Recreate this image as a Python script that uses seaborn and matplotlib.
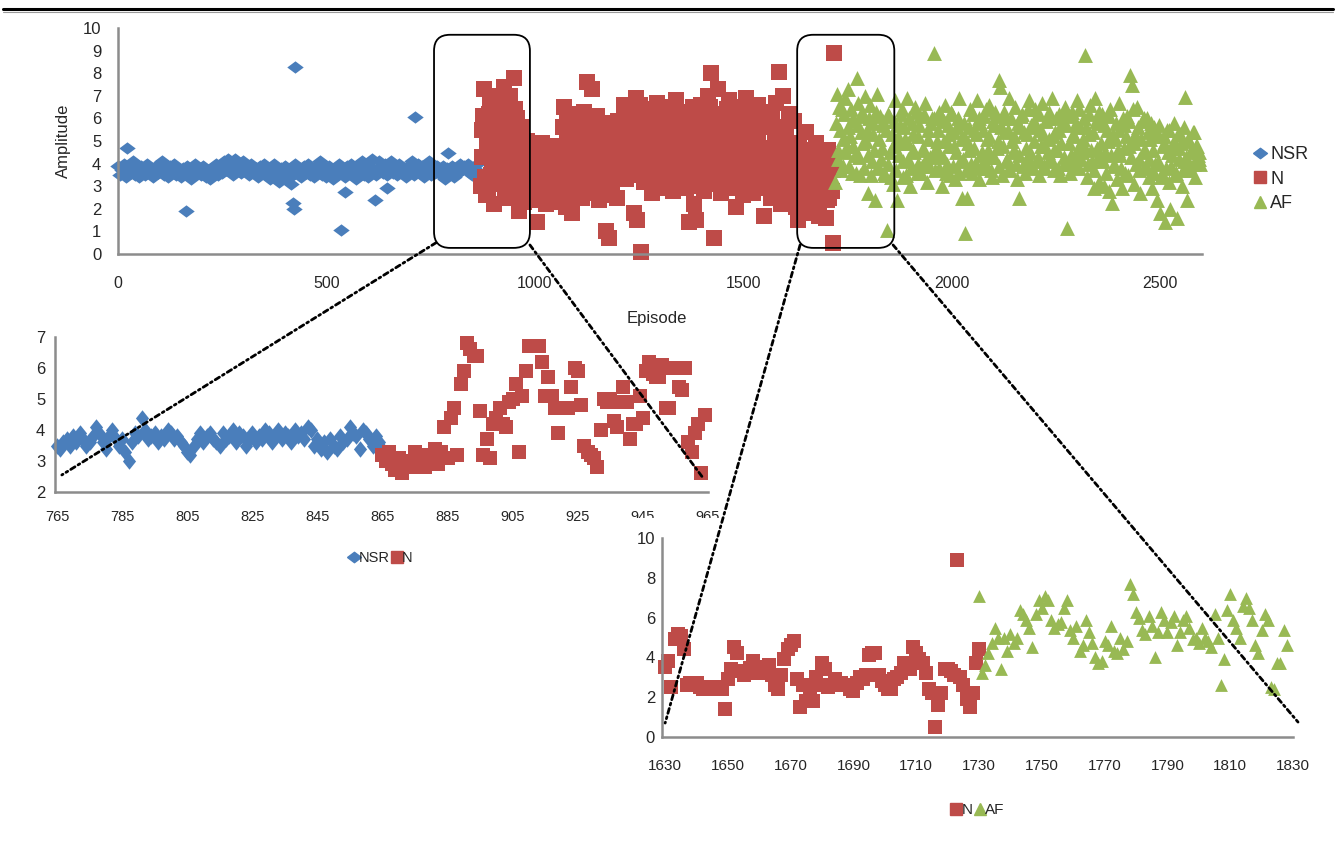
import numpy as np
import matplotlib
matplotlib.use("Agg")
import matplotlib.pyplot as plt
import seaborn as sns
from matplotlib.patches import FancyBboxPatch, ConnectionPatch, Rectangle
from matplotlib.lines import Line2D
from matplotlib.markers import MarkerStyle

# ---- main chart, readings every few episodes ----
nsr_start, nsr_step = 0, 5
nsr_main = [
    3.9, 3.5, 3.7, 4.0, 3.4, 3.8, 3.6, 4.1, 3.5, 3.8,
    3.4, 3.9, 3.7, 3.5, 4.0, 3.6, 3.8, 3.4, 3.9, 3.6,
    3.7, 4.1, 3.5, 3.8, 3.4, 3.9, 3.6, 4.0, 3.5, 3.7,
    3.4, 3.8, 3.6, 3.9, 3.5, 3.3, 3.7, 4.0, 3.6, 3.8,
    3.5, 3.9, 3.4, 3.7, 3.3, 3.8, 3.6, 4.0, 3.5, 3.8,
    3.6, 4.1, 3.7, 4.2, 3.9, 3.5, 4.2, 3.8, 4.0, 3.6,
    4.1, 3.7, 3.9, 3.5, 4.0, 3.6, 3.8, 3.4, 3.9, 3.6,
    4.0, 3.5, 3.8, 3.3, 3.7, 4.0, 3.5, 3.2, 3.8, 3.6,
    3.9, 3.4, 3.7, 3.1, 3.5, 4.0, 3.6, 3.8, 3.4, 3.9,
    3.6, 4.0, 3.5, 3.8, 3.4, 3.9, 3.7, 4.1, 3.5, 3.8,
    3.4, 3.9, 3.6, 3.3, 3.8, 3.5, 4.0, 3.6, 3.8, 3.4,
    3.9, 3.6, 4.0, 3.5, 3.3, 3.8, 3.6, 4.1, 3.5, 3.7,
    3.4, 3.9, 4.2, 3.7, 3.5, 4.1, 3.8, 3.6, 4.0, 3.5,
    3.8, 4.1, 3.6, 3.9, 3.5, 4.0, 3.7, 3.8, 3.4, 3.9,
    3.6, 4.1, 3.5, 3.8, 4.0, 3.6, 3.9, 3.4, 3.7, 4.1,
    3.5, 3.8, 3.6, 3.9, 3.7, 3.5, 3.9, 3.3, 3.8, 3.7,
    3.9, 3.4, 3.8, 3.6, 4.0, 3.7, 3.9, 3.8, 4.0, 3.6,
    3.5, 3.8, 4.0, 3.6,
]
nsr_odd_ep = [21, 163, 419, 422, 424, 536, 544, 616, 645, 712, 791]
nsr_odd = [4.7, 1.9, 2.27, 1.98, 8.29, 1.06, 2.74, 2.39, 2.92, 6.06, 4.45]

# N: two readings in every 4-episode window
n_start, n_step = 870, 4
n_main_a = [
    3.0, 5.5, 7.3, 2.6, 4.8, 6.2, 3.5, 7.0, 2.2, 5.9,
    4.2, 6.8, 3.1, 5.3, 7.4, 2.5, 4.6, 6.5, 3.8, 5.1,
    7.8, 2.9, 6.0, 1.9, 4.4, 5.6, 2.3, 3.6, 5.0, 2.8,
    4.7, 3.3, 2.4, 4.1, 1.4, 3.7, 2.6, 4.9, 3.0, 2.2,
    4.4, 3.5, 2.7, 4.8, 3.1, 2.3, 4.0, 3.6, 2.9, 4.6,
    6.5, 2.1, 5.2, 3.4, 6.0, 1.8, 4.5, 5.7, 2.6, 3.9,
    5.1, 2.5, 6.3, 3.6, 7.6, 4.2, 2.8, 7.3, 5.4, 3.2,
    6.1, 2.4, 4.7, 5.8, 3.0, 1.0, 4.3, 0.7, 5.5, 2.7,
    3.8, 5.2, 2.5, 4.6, 3.4, 5.8, 6.6, 3.3, 4.9, 6.2,
    3.6, 5.4, 1.8, 6.9, 1.5, 4.1, 0.1, 5.7, 3.2, 6.4,
    4.5, 3.5, 6.0, 2.7, 5.1, 3.9, 6.7, 3.1, 4.8, 5.6,
    2.9, 6.3, 4.2, 3.4, 5.9, 2.8, 4.6, 6.8, 3.7, 5.3,
    3.0, 6.1, 4.4, 2.9, 5.7, 1.4, 3.8, 6.5, 2.2, 1.5,
    4.9, 3.3, 6.6, 4.0, 2.8, 5.5, 7.0, 3.6, 8.0, 4.7,
    0.7, 3.2, 7.3, 5.8, 2.7, 4.3, 6.2, 3.5, 5.0, 6.8,
    2.9, 4.6, 5.9, 2.1, 3.8, 6.4, 4.1, 2.6, 5.4, 6.9,
    3.3, 4.8, 6.1, 2.7, 5.2, 3.9, 6.6, 3.0, 4.5, 5.8,
    1.7, 3.6, 6.3, 4.2, 2.5, 5.6, 3.1, 6.7, 4.0, 8.05,
    2.2, 7.0, 3.7, 5.3, 2.4, 6.2, 4.4, 3.0, 5.9, 2.1,
    1.5, 4.8, 2.6, 3.9, 1.8, 5.4, 3.2, 2.4, 4.5, 3.6,
    2.0, 4.9, 3.0, 1.7, 4.2, 2.8, 3.5, 1.6, 4.6, 2.5,
    3.8, 0.5, 8.9,
]
n_main_b = [
    4.3, 6.1, 3.4, 5.7, 2.8, 6.6, 4.0, 5.2, 3.1, 6.9,
    5.0, 3.7, 6.2, 4.5, 2.7, 5.8, 4.1, 7.0, 3.3, 5.5,
    6.4, 3.9, 4.9, 2.6, 5.3, 3.5, 4.6, 2.9, 4.2, 3.8,
    3.0, 4.4, 3.7, 2.8, 4.6, 3.3, 4.1, 2.5, 3.9, 4.5,
    2.9, 4.2, 3.6, 2.6, 4.7, 3.2, 4.4, 2.7, 3.8, 5.6,
    3.1, 5.9, 4.3, 2.4, 5.0, 3.7, 6.2, 2.9, 4.6, 3.4,
    4.0, 5.6, 3.0, 4.8, 2.7, 5.3, 3.9, 4.5, 6.0, 3.5,
    4.9, 3.3, 5.5, 2.9, 4.4, 3.8, 5.1, 2.6, 4.1, 5.7,
    3.4, 4.6, 5.9, 3.9, 5.2, 4.3, 3.6, 6.1, 4.7, 5.5,
    4.2, 6.3, 3.5, 5.0, 4.6, 6.6, 3.8, 5.3, 4.4, 3.3,
    5.8, 4.1, 3.2, 5.4, 4.7, 6.2, 3.6, 5.1, 4.0, 6.5,
    4.4, 3.4, 5.7, 4.9, 3.1, 5.2, 6.1, 4.0, 3.6, 5.9,
    4.6, 3.3, 5.0, 6.3, 3.9, 4.8, 3.2, 5.5, 4.2, 3.0,
    5.8, 4.3, 3.5, 6.0, 4.8, 3.1, 5.3, 6.5, 4.1, 5.6,
    3.7, 6.2, 4.5, 3.2, 5.4, 4.9, 3.6, 6.4, 4.2, 5.1,
    3.8, 5.5, 4.4, 6.1, 3.3, 5.0, 4.6, 6.5, 3.0, 4.8,
    5.7, 3.6, 4.3, 6.2, 4.9, 2.9, 5.4, 4.0, 6.0, 3.4,
    4.7, 5.8, 3.1, 4.4, 6.1, 3.7, 5.2, 4.5, 2.8, 5.6,
    4.1, 3.2, 5.5, 4.6, 3.8, 6.0, 2.7, 4.9, 3.5, 4.2,
    3.0, 4.1, 2.4, 3.5, 4.4, 2.8, 3.9, 2.2, 3.3, 4.6,
    2.7, 3.6, 2.3, 4.0, 3.1, 2.6, 3.8, 2.4, 3.4, 4.3,
    2.8, 3.7,
]

# AF: two readings in every 4-episode window
af_start, af_step = 1720, 4
af_main_a = [
    3.2, 7.1, 4.6, 5.5, 6.4, 3.9, 6.9, 4.8, 7.3, 5.2,
    3.6, 6.0, 4.4, 7.8, 5.7, 3.5, 6.3, 4.9, 7.0, 5.5,
    2.7, 6.6, 4.1, 5.8, 2.4, 7.1, 3.8, 6.1, 4.7, 5.9,
    3.5, 1.06, 6.2, 4.5, 5.3, 3.1, 6.8, 2.4, 4.9, 5.7,
    6.4, 3.4, 5.1, 6.9, 4.2, 3.0, 5.8, 4.6, 6.5, 3.6,
    5.2, 6.1, 3.9, 4.7, 6.7, 3.2, 5.5, 4.3, 6.0, 8.9,
    3.7, 5.0, 6.3, 4.4, 3.0, 5.9, 6.6, 4.0, 5.3, 3.5,
    6.2, 4.8, 3.3, 5.6, 6.9, 4.1, 2.5, 5.2, 0.93, 2.5,
    4.6, 6.4, 3.6, 5.5, 4.0, 6.8, 3.3, 5.8, 4.5, 6.1,
    3.8, 5.1, 6.6, 4.3, 3.4, 5.7, 6.3, 4.7, 7.7, 7.4,
    3.5, 5.4, 6.0, 4.2, 6.9, 3.7, 5.0, 4.6, 6.5, 3.3,
    2.5, 5.6, 6.2, 4.0, 3.6, 5.3, 6.8, 4.5, 3.9, 5.9,
    6.4, 4.1, 3.5, 5.5, 6.7, 4.8, 3.8, 6.0, 5.1, 4.3,
    6.9, 3.7, 5.4, 4.6, 6.2, 3.5, 5.8, 4.0, 6.5, 1.15,
    4.9, 3.6, 6.3, 5.2, 4.2, 6.8, 3.8, 5.6, 4.5, 6.0,
    8.8, 3.4, 5.3, 6.6, 4.1, 2.9, 6.9, 4.7, 3.2, 5.8,
    6.2, 3.0, 4.5, 5.5, 2.8, 6.4, 2.24, 4.0, 5.1, 3.3,
    6.7, 4.4, 2.9, 5.7, 3.6, 6.1, 4.8, 7.9, 7.5, 3.1,
    5.3, 6.5, 4.2, 2.7, 5.9, 3.8, 4.6, 6.0, 3.4, 5.1,
    2.9, 5.6, 4.0, 2.4, 5.2, 1.8, 3.6, 4.9, 1.4, 5.5,
    3.2, 2.0, 4.4, 5.8, 3.5, 1.6, 4.7, 5.3, 3.0, 4.1,
    6.95, 2.4, 5.0, 3.7, 4.5, 5.4, 3.4, 4.8, 4.2, 4.0,
]
af_main_b = [
    5.8, 4.2, 6.5, 3.7, 5.1, 6.2, 4.5, 5.6, 3.9, 6.4,
    4.8, 5.9, 3.6, 6.7, 4.3, 5.4, 6.1, 3.8, 5.0, 4.4,
    6.0, 3.5, 5.3, 4.6, 6.3, 3.9, 5.1, 4.2, 5.7, 3.6,
    5.5, 4.0, 6.1, 3.4, 4.8, 5.9, 3.7, 5.2, 4.4, 6.2,
    4.1, 5.6, 3.5, 4.9, 6.0, 3.8, 5.3, 4.5, 6.3, 4.0,
    5.7, 3.6, 4.6, 6.2, 4.2, 5.1, 3.9, 5.8, 4.4, 6.0,
    4.7, 5.5, 3.8, 6.1, 4.3, 5.0, 3.6, 5.7, 4.8, 6.3,
    3.9, 5.4, 4.5, 6.0, 3.6, 5.1, 4.2, 5.8, 3.7, 4.9,
    5.6, 4.0, 6.2, 4.7, 5.3, 3.8, 6.0, 4.4, 5.5, 4.1,
    6.4, 4.6, 5.2, 3.7, 5.9, 4.3, 6.1, 5.0, 3.9, 5.6,
    4.8, 6.3, 4.1, 5.5, 3.8, 6.0, 4.5, 5.2, 4.0, 5.8,
    4.4, 6.1, 3.9, 5.4, 4.7, 6.4, 4.2, 5.7, 3.8, 5.0,
    5.6, 4.3, 6.2, 4.8, 5.3, 3.9, 5.9, 4.5, 6.3, 4.1,
    5.2, 4.6, 6.0, 3.8, 5.5, 4.9, 6.2, 4.3, 5.7, 4.0,
    6.1, 4.4, 5.3, 3.9, 5.8, 4.7, 6.4, 4.2, 5.1, 4.8,
    5.6, 4.0, 6.2, 4.6, 5.4, 3.7, 5.9, 4.3, 6.3, 4.9,
    4.1, 5.7, 3.6, 5.0, 6.1, 4.4, 5.3, 3.9, 5.8, 4.6,
    5.5, 3.8, 6.0, 4.7, 5.2, 3.5, 5.9, 4.3, 6.4, 4.9,
    4.0, 5.6, 3.7, 5.1, 4.5, 6.0, 3.9, 5.4, 4.2, 5.8,
    4.6, 3.6, 5.3, 4.1, 5.7, 3.4, 4.8, 5.2, 3.8, 4.5,
    5.5, 3.9, 4.7, 5.0, 3.6, 5.3, 4.2, 4.9, 3.7, 5.6,
    4.3, 5.1, 3.9, 4.6, 5.4, 4.0, 4.8, 4.4, 4.5,
]

# ---- zoom 1: episodes 765-965, one reading per episode ----
z1_nsr_start = 765
z1_nsr = [
    3.5, 3.4, 3.6, 3.7, 3.5, 3.8, 3.6, 3.9, 3.7, 3.5,
    3.6, 3.8, 4.1, 3.9, 3.6, 3.4, 3.8, 4.0, 3.7, 3.5,
    3.7, 3.3, 3.0, 3.6, 3.9, 3.8, 4.4, 4.0, 3.7, 3.8,
    3.9, 3.6, 3.8, 3.7, 4.0, 3.9, 3.7, 3.8, 3.6, 3.5,
    3.3, 3.2, 3.5, 3.7, 3.9, 3.6, 3.8, 3.9, 3.7, 3.6,
    3.5, 3.9, 3.7, 3.8, 4.0, 3.6, 3.9, 3.8, 3.5, 3.7,
    3.9, 3.6, 3.8, 3.7, 4.0, 3.9, 3.6, 3.8, 4.0, 3.7,
    3.9, 3.8, 3.6, 4.0, 3.8, 3.9, 3.7, 4.1, 4.0, 3.5,
    3.7, 3.4, 3.6, 3.3, 3.7, 3.5, 3.4, 3.8, 3.6, 3.7,
    4.1, 3.9, 3.8, 3.4, 4.0, 3.9, 3.7, 3.5, 3.8, 3.6,
    3.4,
]
z1_n_start = 865
z1_n = [
    3.2, 3.0, 3.3, 2.9, 2.7, 3.1, 2.6, 2.8, 3.0, 2.8,
    3.3, 3.1, 2.9, 2.8, 3.2, 3.0, 3.4, 2.9, 3.3, 4.1,
    3.1, 4.4, 4.7, 3.2, 5.5, 5.9, 6.8, 6.6, 6.4, 6.4,
    4.6, 3.2, 3.7, 3.1, 4.2, 4.4, 4.7, 4.2, 4.1, 4.9,
    5.0, 5.5, 3.3, 5.1, 5.9, 6.7, 6.7, 6.7, 6.7, 6.2,
    5.1, 5.7, 5.1, 4.7, 3.9, 4.7, 4.7, 4.7, 5.4, 6.0,
    5.9, 4.8, 3.5, 3.3, 3.2, 3.1, 2.8, 4.0, 5.0, 4.9,
    5.0, 4.3, 4.1, 4.9, 5.4, 4.9, 3.7, 4.2, 4.2, 5.1,
    4.4, 5.9, 6.2, 5.8, 5.7, 5.7, 6.1, 4.7, 4.7, 6.0,
    6.0, 5.4, 5.3, 6.0, 3.6, 3.3, 3.9, 4.2, 2.6, 4.5,
]

# ---- zoom 2: episodes 1630-1830 ----
z2_n_start = 1630
z2_n = [
    3.5, 3.8, 2.5, 4.9, 5.2, 5.1, 4.4, 2.6, 2.7, 2.6,
    2.7, 2.5, 2.4, 2.5, 2.4, 2.4, 2.4, 2.5, 2.4, 1.4,
    2.9, 3.4, 4.5, 4.2, 3.3, 3.1, 3.2, 3.45, 3.8, 3.4,
    3.2, 3.5, 3.3, 3.6, 3.1, 2.6, 2.4, 3.1, 3.9, 4.4,
    4.6, 4.8, 2.9, 1.5, 2.6, 1.8, 2.5, 1.8, 3.0, 2.6,
    3.7, 3.4, 2.5, 2.6, 2.9, 2.7, 2.7, 2.6, 2.6, 2.4,
    2.3, 2.7, 3.0, 2.9, 3.1, 4.1, 4.2, 4.2, 3.1, 2.8,
    2.6, 2.4, 2.4, 2.9, 3.0, 3.2, 3.7, 3.5, 3.4, 4.5,
    4.2, 3.9, 3.7, 3.2, 2.4, 2.2, 0.5, 1.6, 2.2, 3.4,
    3.4, 3.3, 3.1, 8.9, 3.0, 2.6, 1.9, 1.5, 2.2, 3.7,
    4.4,
]
z2_af_start = 1730
z2_af = [
    7.1, 3.2, 3.6, 4.2, 4.7, 5.5, 5.0, 3.4, 5.0, 4.3,
    5.2, 4.7, 5.0, 6.4, 6.2, 5.9, 5.5, 4.5, 6.2, 6.9,
    6.5, 7.1, 6.9, 5.9, 5.5, 5.7, 5.8, 6.5, 6.9, 5.4,
    5.0, 5.6, 4.3, 4.6, 5.9, 5.3, 4.7, 4.0, 3.7, 3.8,
    4.8, 4.6, 5.6, 4.3, 4.2, 5.0, 4.4, 4.8, 7.7, 7.2,
    6.3, 6.0, 5.4, 5.2, 6.1, 5.6, 4.0, 5.3, 6.3, 5.9,
    5.3, 5.8, 6.1, 4.6, 5.3, 5.9, 6.1, 5.5, 4.9, 5.0,
    4.7, 5.5, 5.0, 4.8, 4.5, 6.2, 5.0, 2.6, 3.9, 6.4,
    7.2, 5.9, 5.5, 5.0, 6.6, 7.0, 6.5, 5.9, 4.6, 4.2,
    5.4, 6.2, 5.9, 2.5, 2.4, 3.7, 3.7, 5.4, 4.6,
]

labels = ["NSR", "N", "AF"]
colors = {"NSR": "#4A7EBB", "N": "#BE4B48", "AF": "#98B954"}

W, H = 1336, 844
TXT = "#262626"


def rect(l, t, r, b):
    return [l / W, 1 - b / H, (r - l) / W, (b - t) / H]


def steps(start, step, vals, offset=0):
    return start + offset + step * np.arange(len(vals))


diamond_wide = MarkerStyle([(-1, 0), (0, 0.75), (1, 0), (0, -0.75), (-1, 0)])
diamond_tall = MarkerStyle([(0, 1), (0.8, 0), (0, -1), (-0.8, 0), (0, 1)])
markers = {"NSR": diamond_wide, "N": "s", "AF": "^"}


def dots(ax, x, y, name, size, marker=None):
    sns.scatterplot(x=x, y=y, ax=ax, color=colors[name],
                    marker=marker if marker is not None else markers[name],
                    s=size, linewidth=0, legend=False, clip_on=False)


def style(ax, ysize, xsize, ypad, xpad):
    for side in ["top", "right"]:
        ax.spines[side].set_visible(False)
    for side in ["left", "bottom"]:
        ax.spines[side].set_color("#8c8c8c")
        ax.spines[side].set_linewidth(1.8)
    ax.tick_params(axis="y", length=0, labelsize=ysize, pad=ypad, labelcolor=TXT)
    ax.tick_params(axis="x", length=0, labelsize=xsize, pad=xpad, labelcolor=TXT)
    ax.grid(False)
    ax.set_facecolor("none")


sns.set_style("white")
plt.rcParams["font.family"] = ["Liberation Sans", "DejaVu Sans"]

fig = plt.figure(figsize=(W / 100, H / 100), dpi=100)

# ---- main chart ----
ax = fig.add_axes(rect(118, 28, 1202, 254))
ax.set_zorder(1)
dots(ax, steps(nsr_start, nsr_step, nsr_main), nsr_main, "NSR", 140)
dots(ax, nsr_odd_ep, nsr_odd, "NSR", 140)
dots(ax, steps(n_start, n_step, n_main_a), n_main_a, "N", 120)
dots(ax, steps(n_start, n_step, n_main_b, 2), n_main_b, "N", 120)
dots(ax, steps(af_start, af_step, af_main_a), af_main_a, "AF", 115)
dots(ax, steps(af_start, af_step, af_main_b, 2), af_main_b, "AF", 115)
ax.set_xlim(0, 2600)
ax.set_ylim(0, 10)
ax.set_xticks(range(0, 2501, 500))
ax.set_yticks(range(0, 11))
style(ax, 12, 11.5, 12, 16)
ax.set_xlabel("Episode", fontsize=12, color=TXT)
ax.set_ylabel("Amplitude", fontsize=12, color=TXT)
ax.xaxis.set_label_coords(0.497, -0.252)
ax.yaxis.set_label_coords(-0.043, 0.50)

leg_handles = [Line2D([], [], ls="", marker=diamond_wide, color=colors["NSR"], markersize=10),
               Line2D([], [], ls="", marker="s", color=colors["N"], markersize=9),
               Line2D([], [], ls="", marker="^", color=colors["AF"], markersize=9)]
ax.legend(leg_handles, labels, loc="upper left", bbox_to_anchor=(1244 / W, 1 - 137 / H),
          bbox_transform=fig.transFigure, frameon=False, fontsize=13, handlelength=0.8,
          handletextpad=0.15, labelspacing=0.42, borderpad=0, labelcolor=TXT)

# ---- zoom 1 ----
ax1 = fig.add_axes(rect(55, 337, 708, 492))
ax1.set_zorder(1)
dots(ax1, steps(z1_nsr_start, 1, z1_nsr), z1_nsr, "NSR", 140, diamond_tall)
dots(ax1, steps(z1_n_start, 1, z1_n), z1_n, "N", 110)
ax1.set_xlim(764.4, 965)
ax1.set_ylim(2, 7)
ax1.set_xticks(range(765, 966, 20))
ax1.set_yticks(range(2, 8))
style(ax1, 12, 10.5, 7, 13)
ax1.legend(leg_handles[:2], labels[:2], loc="center", bbox_to_anchor=(381 / W, 1 - 558 / H),
           bbox_transform=fig.transFigure, frameon=False, fontsize=10.5, ncol=2,
           handlelength=0.6, handletextpad=0.05, columnspacing=0.15, borderpad=0,
           labelcolor=TXT)

# white sheet of the second zoom picture, laid over the first one's last labels
fig.add_artist(Rectangle((615 / W, 0), (W - 615) / W, 1 - 518 / H, transform=fig.transFigure,
                         facecolor="white", edgecolor="none", zorder=2))

# ---- zoom 2 ----
ax2 = fig.add_axes(rect(662, 538, 1293, 737))
ax2.set_zorder(3)
dots(ax2, steps(z2_n_start, 1, z2_n), z2_n, "N", 110)
dots(ax2, steps(z2_af_start, 1, z2_af), z2_af, "AF", 85)
ax2.set_xlim(1629, 1830)
ax2.set_ylim(0, 10)
ax2.set_xticks(range(1630, 1831, 20))
ax2.set_yticks(range(0, 11, 2))
style(ax2, 12, 11, 5, 16)
ax2.legend(leg_handles[1:], labels[1:], loc="center", bbox_to_anchor=(978 / W, 1 - 810 / H),
           bbox_transform=fig.transFigure, frameon=False, fontsize=11, ncol=2,
           handlelength=0.6, handletextpad=0.05, columnspacing=0.15, borderpad=0,
           labelcolor=TXT)

# ---- rounded boxes around the zoomed windows and the leader lines ----
dpi = fig.dpi
for x0, x1 in [(758, 988), (1629, 1862)]:
    p0 = ax.transData.transform((x0, 0.27))
    p1 = ax.transData.transform((x1, 9.7))
    fig.add_artist(FancyBboxPatch((p0[0] / dpi, p0[1] / dpi), (p1[0] - p0[0]) / dpi,
                                  (p1[1] - p0[1]) / dpi,
                                  boxstyle="round,pad=0,rounding_size=0.16",
                                  transform=fig.dpi_scale_trans, fill=False,
                                  edgecolor="black", linewidth=1.3, zorder=4))

leaders = [((763, 0.5), ax1, (766.5, 2.55)),
           ((988, 0.4), ax1, (963.5, 2.45)),
           ((1636, 0.4), ax2, (1630, 0.7)),
           ((1859, 0.4), ax2, (1831.6, 0.75))]
for a, target, b in leaders:
    con = ConnectionPatch(xyA=a, coordsA=ax.transData, xyB=b, coordsB=target.transData,
                          color="black", linewidth=2.0, linestyle=(0, (1.8, 1.3, 0.7, 1.3)),
                          zorder=4)
    fig.add_artist(con)

# rule across the top of the page
fig.add_artist(Line2D([3 / W, 1333 / W], [1 - 9 / H] * 2, transform=fig.transFigure,
                      color="black", linewidth=2.2))
fig.add_artist(Line2D([3 / W, 1333 / W], [1 - 11.5 / H] * 2, transform=fig.transFigure,
                      color="#9a9a9a", linewidth=0.8))

fig.savefig("out.png", dpi=100, facecolor="white")
